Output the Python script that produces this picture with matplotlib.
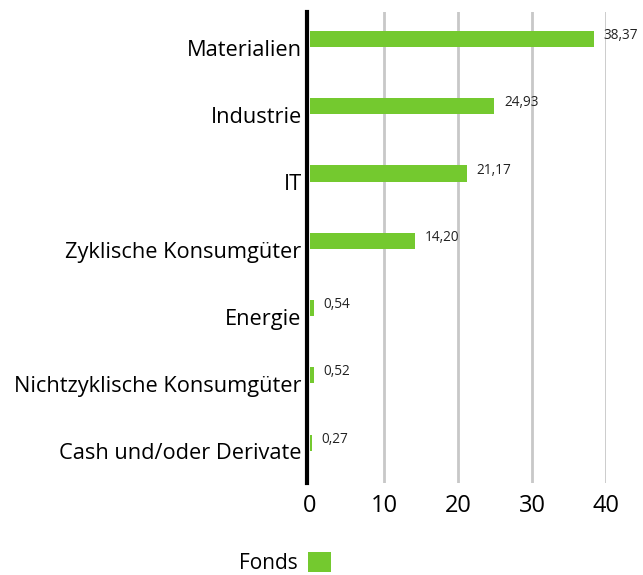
import matplotlib.pyplot as plt
import numpy as np

categories = ['Materialien', 'Industrie', 'IT', 'Zyklische Konsumgüter',
              'Energie', 'Nichtzyklische Konsumgüter', 'Cash und/oder Derivate']
fonds = [38.37, 24.93, 21.17, 14.20, 0.54, 0.52, 0.27]
xticks = [0, 10, 20, 30, 40]

green = '#74c92f'
plt.rcParams['font.family'] = ['Open Sans', 'DejaVu Sans']

fig = plt.figure(figsize=(6.43, 5.75), dpi=100)
ax = fig.add_axes([310 / 643, 1 - 483 / 575, (606 - 310) / 643, (483 - 12) / 575])

for s in ('top', 'right', 'bottom'):
    ax.spines[s].set_visible(False)
ax.spines['left'].set_linewidth(3)
ax.spines['left'].set_position(('outward', 2))

y = np.arange(len(categories))
ax.barh(y - 0.1, fonds, height=0.24, color=green, label='Fonds', zorder=3)
for yi, v in zip(y, fonds):
    ax.text(v + 1.3, yi - 0.15, f'{v:.2f}'.replace('.', ','), fontsize=9.8,
            va='center', ha='left', color='#222222')

for t in xticks[1:]:
    ax.axvline(t, color='#c8c8c8', lw=2, zorder=0)

ax.set_xlim(0, 40)
ax.set_ylim(len(categories) - 0.5, -0.5)
ax.set_xticks(xticks)
ax.set_xticklabels([str(t) for t in xticks])
ax.set_yticks(y + 0.03)
ax.set_yticklabels(categories)
ax.tick_params(axis='y', length=0, pad=4, labelsize=15.7)
ax.tick_params(axis='x', length=0, pad=8, labelsize=17)

fig.legend(loc='center', bbox_to_anchor=(285 / 643, 1 - 563 / 575),
           frameon=False, markerfirst=False, fontsize=15,
           handlelength=1.1, handleheight=1.1, handletextpad=0.5)

fig.savefig('out.png', dpi=100)
